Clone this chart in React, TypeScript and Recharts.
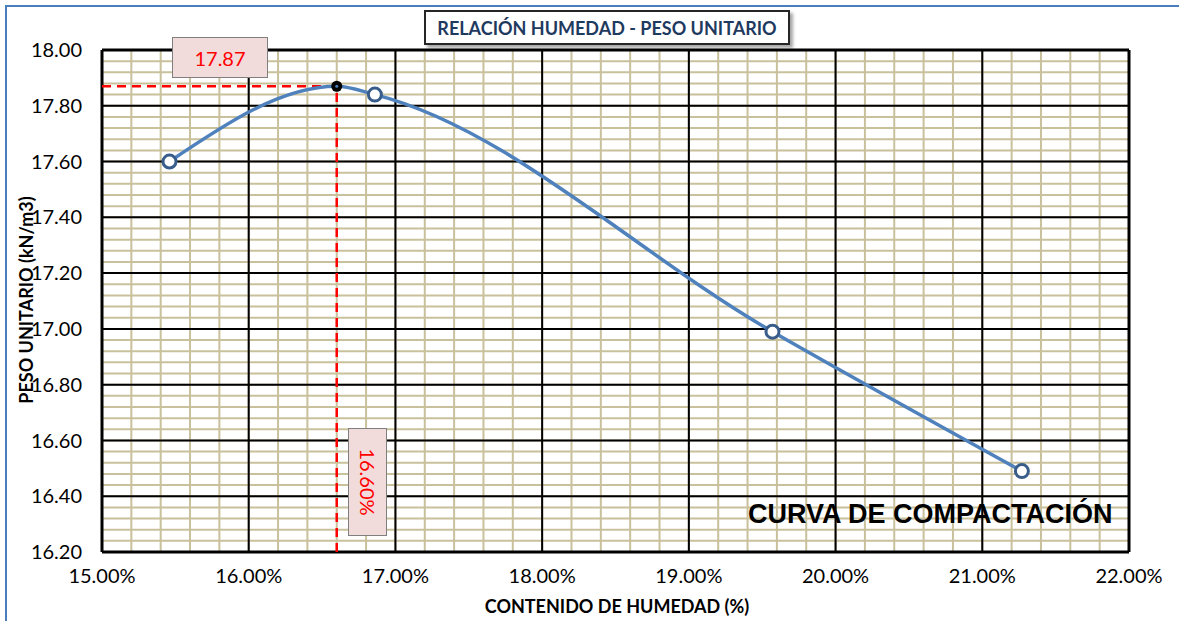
import {
  LineChart,
  Line,
  XAxis,
  YAxis,
  ReferenceLine,
} from 'recharts'

// moisture content (%) and unit weight (kN/m3)
const moisture = [15.46, 16.6, 16.86, 19.57, 21.27]
const unitWeight = [17.6, 17.87, 17.84, 16.99, 16.49]
const optimumMoisture = 16.6
const maxUnitWeight = 17.87

const xTicks = [15, 16, 17, 18, 19, 20, 21, 22]
const yTicks = [16.2, 16.4, 16.6, 16.8, 17.0, 17.2, 17.4, 17.6, 17.8, 18.0]

// minor grid: every 0.2 % in x, every 0.04 in y
const minorX = Array.from({ length: 36 }, (_, i) => +(15 + i * 0.2).toFixed(2))
const minorY = Array.from({ length: 46 }, (_, i) => +(16.2 + i * 0.04).toFixed(2))

const data = moisture.map((w, i) => ({ w, d: unitWeight[i] }))

const CALIBRI = 'Lato, "Open Sans", sans-serif'

function Dot(props: any) {
  const { cx, cy, payload, index } = props
  if (payload.w === optimumMoisture) {
    return (
      <g key={`dot-${index}`}>
        <circle cx={cx} cy={cy} r={5.5} fill="#000" />
        <circle cx={cx} cy={cy} r={1.5} fill="#4F81BD" />
      </g>
    )
  }
  return (
    <circle
      key={`dot-${index}`}
      cx={cx}
      cy={cy}
      r={6.5}
      fill="#fff"
      stroke="#385D8A"
      strokeWidth={3}
    />
  )
}

export default function App() {
  return (
    <div
      style={{
        position: 'absolute',
        left: 0,
        top: 0,
        width: 1179,
        height: 621,
        overflow: 'hidden',
        background: '#fff',
        fontFamily: CALIBRI,
      }}
    >
      <div
        style={{
          position: 'absolute',
          left: 5,
          top: 5,
          width: 1300,
          height: 800,
          borderTop: '2px solid #4A7EBB',
          borderLeft: '2px solid #4A7EBB',
        }}
      />
      <LineChart
        width={1179}
        height={621}
        data={data}
        margin={{ top: 50, right: 50, bottom: 39, left: 12 }}
        style={{ position: 'absolute', left: 0, top: 0 }}
      >
        <XAxis
          type="number"
          dataKey="w"
          domain={[15, 22]}
          ticks={xTicks}
          interval={0}
          axisLine={false}
          tickLine={false}
          height={30}
          tickMargin={11}
          tick={{ fill: '#000', fontSize: 20, fontFamily: CALIBRI }}
          tickFormatter={(v: number) => v.toFixed(2) + '%'}
        />
        <YAxis
          type="number"
          dataKey="d"
          domain={[16.2, 18]}
          ticks={yTicks}
          interval={0}
          axisLine={false}
          tickLine={false}
          width={90}
          tickMargin={14}
          tick={{ fill: '#000', fontSize: 20, fontFamily: CALIBRI }}
          tickFormatter={(v: number) => v.toFixed(2)}
        />
        {minorX.map((x) => (
          <ReferenceLine key={`mx-${x}`} x={x} stroke="#C9C09C" strokeWidth={2} />
        ))}
        {minorY.map((y) => (
          <ReferenceLine key={`my-${y}`} y={y} stroke="#C9C09C" strokeWidth={2} />
        ))}
        {xTicks.map((x) => (
          <ReferenceLine
            key={`X-${x}`}
            x={x}
            stroke="#000"
            strokeWidth={x === 15 || x === 22 ? 3 : 2}
          />
        ))}
        {yTicks.map((y) => (
          <ReferenceLine
            key={`Y-${y}`}
            y={y}
            stroke="#000"
            strokeWidth={y === 16.2 || y === 18 ? 3 : 2}
          />
        ))}
        <ReferenceLine
          segment={[
            { x: 15, y: maxUnitWeight },
            { x: optimumMoisture, y: maxUnitWeight },
          ]}
          stroke="#FF0000"
          strokeWidth={2.5}
          strokeDasharray="9 6"
        />
        <ReferenceLine
          segment={[
            { x: optimumMoisture, y: 16.2 },
            { x: optimumMoisture, y: maxUnitWeight },
          ]}
          stroke="#FF0000"
          strokeWidth={2.5}
          strokeDasharray="9 6"
        />
        <Line
          type="monotone"
          dataKey="d"
          stroke="#4F81BD"
          strokeWidth={3.5}
          dot={Dot}
          activeDot={false}
          isAnimationActive={false}
        />
      </LineChart>

      {/* chart title */}
      <div
        style={{
          position: 'absolute',
          left: 424,
          top: 10,
          width: 362,
          height: 31,
          border: '2px solid #262626',
          background: '#fff',
          boxShadow: '3px 3px 3px rgba(0,0,0,0.35)',
          display: 'flex',
          alignItems: 'center',
          justifyContent: 'center',
          color: '#1F3A5F',
          fontWeight: 700,
          fontSize: 18,
          whiteSpace: 'nowrap',
        }}
      >
        RELACIÓN HUMEDAD - PESO UNITARIO
      </div>

      {/* max unit weight label */}
      <div
        style={{
          position: 'absolute',
          left: 172,
          top: 37,
          width: 94,
          height: 39,
          border: '1px solid #7F7F7F',
          background: '#F2DCDB',
          display: 'flex',
          alignItems: 'center',
          justifyContent: 'center',
          color: '#FF0000',
          fontSize: 20,
        }}
      >
        {maxUnitWeight.toFixed(2)}
      </div>

      {/* optimum moisture label */}
      <div
        style={{
          position: 'absolute',
          left: 348,
          top: 428,
          width: 37,
          height: 106,
          border: '1px solid #7F7F7F',
          background: '#F2DCDB',
          display: 'flex',
          alignItems: 'center',
          justifyContent: 'center',
        }}
      >
        <span
          style={{
            transform: 'rotate(90deg)',
            color: '#FF0000',
            fontSize: 20,
            whiteSpace: 'nowrap',
          }}
        >
          {optimumMoisture.toFixed(2)}%
        </span>
      </div>

      {/* axis titles */}
      <div
        style={{
          position: 'absolute',
          left: 417,
          top: 595,
          width: 400,
          textAlign: 'center',
          fontWeight: 700,
          fontSize: 18,
          color: '#000',
        }}
      >
        CONTENIDO DE HUMEDAD (%)
      </div>
      <div
        style={{
          position: 'absolute',
          left: 26,
          top: 300,
          transform: 'translate(-50%, -50%) rotate(-90deg)',
          fontWeight: 700,
          fontSize: 18,
          color: '#000',
          whiteSpace: 'nowrap',
        }}
      >
        PESO UNITARIO (kN/m3)
      </div>

      <div
        style={{
          position: 'absolute',
          left: 748,
          top: 499,
          fontFamily: '"Liberation Sans", Arial, sans-serif',
          fontWeight: 700,
          fontSize: 27,
          color: '#000',
          whiteSpace: 'nowrap',
        }}
      >
        CURVA DE COMPACTACIÓN
      </div>
    </div>
  )
}
